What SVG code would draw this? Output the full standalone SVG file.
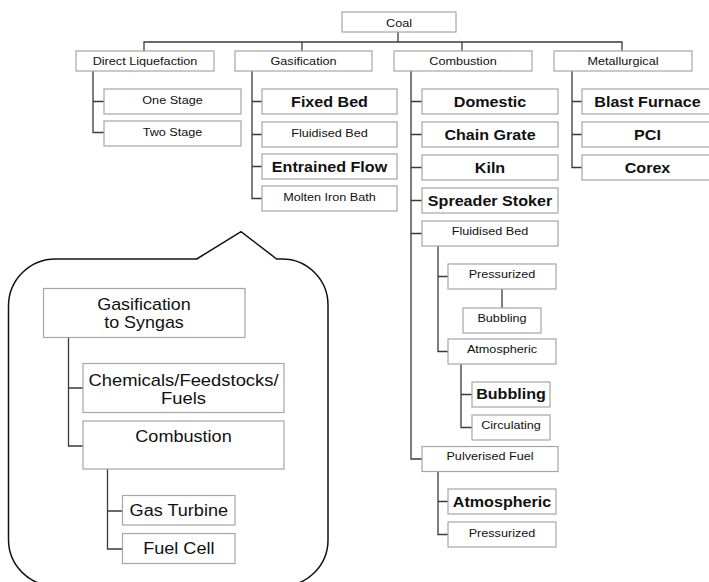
<svg xmlns="http://www.w3.org/2000/svg" width="709" height="582" viewBox="0 0 709 582">
<style>
.b{fill:#fff;stroke:#a6a6a6;stroke-width:1.2}
.c{fill:none;stroke:#3a3a3a;stroke-width:1.3}
.s{font-family:"Liberation Sans",Arial,sans-serif;font-size:11.5px;fill:#111;text-anchor:middle}
.k{font-family:"Liberation Sans",Arial,sans-serif;font-size:14px;font-weight:bold;fill:#111;text-anchor:middle}
.g{font-family:"Liberation Sans",Arial,sans-serif;font-size:16px;fill:#111;text-anchor:middle}
.bub{fill:#fff;stroke:#111;stroke-width:1.5}
</style>
<rect width="709" height="582" fill="#fff"/>
<path id="callout" class="bub" d="M196.7,259 L241,231.7 L276.7,259 L282,259 A46 46 0 0 1 328,305 L328,540 A46 46 0 0 1 282,586 L55,586 A46.5 46.5 0 0 1 8.5,539.5 L8.5,306 A47 47 0 0 1 55.5,259 Z"/>
<g id="connectors">
<path class="c" d="M398,32V42M144,51V42H622V51M302,42V51M462,42V51"/>
<path class="c" d="M93,71V132.5H104M93,101.5H104"/>
<path class="c" d="M252,71V198.5H262M252,101.5H262M252,134.5H262M252,166.5H262"/>
<path class="c" d="M411,71V459H422M411,101.5H422M411,134.5H422M411,167.5H422M411,200.5H422M411,233.5H422"/>
<path class="c" d="M438,246V351.5H448M438,276.5H448M502,289V308M461,364V427.5H472M461,394.5H472"/>
<path class="c" d="M438,471.5V534.5H448M438,501.5H448"/>
<path class="c" d="M572,71V167.5H582M572,101.5H582M572,134.5H582"/>
<path class="c" d="M68.5,337V446H83M68.5,388H83M107.5,469V549H122.5M107.5,511H122.5"/>
</g>
<g id="coal"><rect class="b" x="342" y="12" width="114" height="20"/><text class="s" transform="translate(399,26.5) scale(1.1,1)">Coal</text></g>
<g id="direct-liquefaction"><rect class="b" x="76" y="51" width="138" height="20"/><text class="s" transform="translate(145,65.3) scale(1.1,1)">Direct Liquefaction</text></g>
<g id="gasification"><rect class="b" x="235" y="51" width="137" height="20"/><text class="s" transform="translate(303.5,65.3) scale(1.1,1)">Gasification</text></g>
<g id="combustion"><rect class="b" x="394" y="51" width="138" height="20"/><text class="s" transform="translate(463,65.3) scale(1.1,1)">Combustion</text></g>
<g id="metallurgical"><rect class="b" x="554" y="51" width="138" height="20"/><text class="s" transform="translate(623,65.3) scale(1.1,1)">Metallurgical</text></g>
<g id="one-stage"><rect class="b" x="104" y="89" width="137" height="25"/><text class="s" transform="translate(172.5,104) scale(1.1,1)">One Stage</text></g>
<g id="two-stage"><rect class="b" x="104" y="121" width="137" height="25"/><text class="s" transform="translate(172.5,136) scale(1.1,1)">Two Stage</text></g>
<g id="fixed-bed"><rect class="b" x="262" y="89" width="135" height="25"/><text class="k" transform="translate(329.5,106.6) scale(1.15,1)">Fixed Bed</text></g>
<g id="gas-fluidised-bed"><rect class="b" x="262" y="122" width="135" height="25"/><text class="s" transform="translate(329.5,136.5) scale(1.1,1)">Fluidised Bed</text></g>
<g id="entrained-flow"><rect class="b" x="262" y="154" width="135" height="25"/><text class="k" transform="translate(329.5,171.5) scale(1.15,1)">Entrained Flow</text></g>
<g id="molten-iron-bath"><rect class="b" x="262" y="186" width="135" height="25"/><text class="s" transform="translate(329.5,200.5) scale(1.1,1)">Molten Iron Bath</text></g>
<g id="domestic"><rect class="b" x="422" y="89" width="136" height="25"/><text class="k" transform="translate(490,106.6) scale(1.15,1)">Domestic</text></g>
<g id="chain-grate"><rect class="b" x="422" y="122" width="136" height="25"/><text class="k" transform="translate(490,139.6) scale(1.15,1)">Chain Grate</text></g>
<g id="kiln"><rect class="b" x="422" y="155" width="136" height="25"/><text class="k" transform="translate(490,172.6) scale(1.15,1)">Kiln</text></g>
<g id="spreader-stoker"><rect class="b" x="422" y="188" width="136" height="25"/><text class="k" transform="translate(490,205.6) scale(1.15,1)">Spreader Stoker</text></g>
<g id="comb-fluidised-bed"><rect class="b" x="422" y="221" width="136" height="25"/><text class="s" transform="translate(490,235.3) scale(1.1,1)">Fluidised Bed</text></g>
<g id="fb-pressurized"><rect class="b" x="448" y="264" width="108" height="25"/><text class="s" transform="translate(502,278.3) scale(1.1,1)">Pressurized</text></g>
<g id="pressurized-bubbling"><rect class="b" x="463" y="308" width="78" height="25"/><text class="s" transform="translate(502,322.3) scale(1.1,1)">Bubbling</text></g>
<g id="fb-atmospheric"><rect class="b" x="448" y="339" width="108" height="25"/><text class="s" transform="translate(502,353) scale(1.1,1)">Atmospheric</text></g>
<g id="atmospheric-bubbling"><rect class="b" x="472" y="382" width="78" height="25"/><text class="k" transform="translate(511,399.4) scale(1.15,1)">Bubbling</text></g>
<g id="circulating"><rect class="b" x="472" y="415" width="78" height="25"/><text class="s" transform="translate(511,429.3) scale(1.1,1)">Circulating</text></g>
<g id="pulverised-fuel"><rect class="b" x="422" y="446.5" width="136" height="25"/><text class="s" transform="translate(490,460.3) scale(1.1,1)">Pulverised Fuel</text></g>
<g id="pf-atmospheric"><rect class="b" x="448" y="489" width="108" height="25"/><text class="k" transform="translate(502,506.6) scale(1.15,1)">Atmospheric</text></g>
<g id="pf-pressurized"><rect class="b" x="448" y="522" width="108" height="25"/><text class="s" transform="translate(502,536.6) scale(1.1,1)">Pressurized</text></g>
<g id="blast-furnace"><rect class="b" x="582" y="89" width="132" height="25"/><text class="k" transform="translate(647.5,106.6) scale(1.15,1)">Blast Furnace</text></g>
<g id="pci"><rect class="b" x="582" y="122" width="132" height="25"/><text class="k" transform="translate(647.5,139.6) scale(1.15,1)">PCI</text></g>
<g id="corex"><rect class="b" x="582" y="155" width="132" height="25"/><text class="k" transform="translate(647.5,172.6) scale(1.15,1)">Corex</text></g>
<g id="gasification-to-syngas"><rect class="b" x="43.5" y="288.5" width="201.5" height="49"/><text class="g" transform="translate(144,309.5) scale(1.12,1)">Gasification</text><text class="g" transform="translate(144,327.8) scale(1.12,1)">to Syngas</text></g>
<g id="chemicals"><rect class="b" x="83" y="363.5" width="201" height="49"/><text class="g" transform="translate(183.5,385.7) scale(1.15,1)">Chemicals/Feedstocks/</text><text class="g" transform="translate(183.5,403.5) scale(1.15,1)">Fuels</text></g>
<g id="syngas-combustion"><rect class="b" x="83" y="421" width="201" height="48"/><text class="g" transform="translate(183.5,441.7) scale(1.13,1)">Combustion</text></g>
<g id="gas-turbine"><rect class="b" x="122.5" y="495.5" width="112.5" height="29.5"/><text class="g" transform="translate(178.8,516) scale(1.13,1)">Gas Turbine</text></g>
<g id="fuel-cell"><rect class="b" x="122.5" y="533.5" width="112.5" height="30"/><text class="g" transform="translate(178.8,554.3) scale(1.13,1)">Fuel Cell</text></g>
</svg>
